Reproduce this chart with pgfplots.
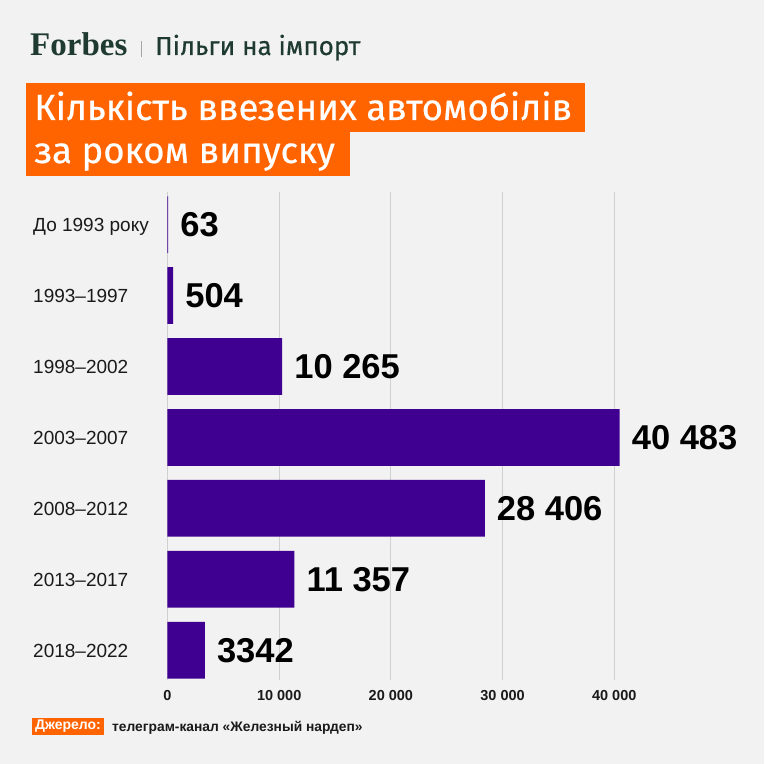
\documentclass[border=0pt]{standalone}
\usepackage{pgfplots}
\pgfplotsset{compat=1.18}
\usepackage{fontspec}
\setmainfont{Liberation Sans}
\newfontfamily\serifbold{Liberation Serif}
\newfontfamily\fira{Fira Sans}[FakeBold=0.5]
\definecolor{bg}{HTML}{F2F2F2}
\definecolor{barc}{HTML}{3F0091}
\definecolor{orng}{HTML}{FF6400}
\definecolor{fgreen}{HTML}{1F3B31}
\definecolor{gridc}{HTML}{D0D0D0}
\definecolor{txt}{HTML}{1A1A1A}
\begin{document}
\begin{tikzpicture}[x=1pt,y=1pt]
\fill[bg] (0,0) rectangle (764,764);
\useasboundingbox (0,0) rectangle (764,764);
% header
\node[anchor=base west, inner sep=0pt, text=fgreen] at (30,708) {\fontsize{33}{36}\selectfont\serifbold\bfseries Forbes};
\draw[gray!70, line width=0.8pt] (141,723) -- (141,707);
\node[anchor=base west, inner sep=0pt, text=fgreen] at (155,709) {\fontsize{26}{28}\selectfont\fira Пільги на імпорт};
% title boxes
\fill[orng] (26,681) rectangle (585,632);
\fill[orng] (26,632) rectangle (350,588);
\node[anchor=base west, inner sep=0pt, text=white] at (34,644) {\fontsize{36.5}{38}\selectfont\fira Кількість ввезених автомобілів};
\node[anchor=base west, inner sep=0pt, text=white] at (34,601) {\fontsize{36.5}{38}\selectfont\fira за роком випуску};
% source
\fill[orng] (32,29) rectangle (104,46);
\node[anchor=center, inner sep=0pt, text=white] at (68,37.5) {\fontsize{14}{16}\selectfont\bfseries Джерело:};
\node[anchor=base west, inner sep=0pt, text=txt] at (112,32) {\fontsize{13.8}{16}\selectfont\bfseries телеграм-канал «Железный нардеп»};
\begin{axis}[
  at={(167.5pt,84pt)}, anchor=south west,
  scale only axis, width=502.6pt, height=488pt,
  xbar, bar width=0.8, bar shift=0pt,
  xmin=0, xmax=45000,
  ymin=-0.46, ymax=6.42, y dir=reverse,
  axis line style={draw=none},
  major tick length=0pt,
  scaled x ticks=false,
  xmajorgrids, major grid style={draw=gridc, line width=0.8pt},
  xtick={0,10000,20000,30000,40000},
  xticklabels={0,10 000,20 000,30 000,40 000},
  xticklabel style={inner sep=0pt, yshift=-10pt, font=\fontsize{14.5}{16}\selectfont\bfseries, text=txt},
  ytick={0,1,2,3,4,5,6},
  yticklabels={До 1993 року,1993–1997,1998–2002,2003–2007,2008–2012,2013–2017,2018–2022},
  yticklabel style={anchor=base west, inner sep=0pt, xshift=-134.5pt, yshift=-7pt, font=\fontsize{19}{21}\selectfont, text=txt},
  point meta=explicit symbolic,
  nodes near coords,
  nodes near coords style={anchor=west, inner sep=0pt, xshift=12pt, font=\fontsize{34.5}{36}\selectfont\bfseries, text=black},
]
\addplot[fill=barc, draw=none] coordinates {
  (63,0) [63]
  (504,1) [504]
  (10265,2) [10 265]
  (40483,3) [40 483]
  (28406,4) [28 406]
  (11357,5) [11 357]
  (3342,6) [3342]
};
\end{axis}
\end{tikzpicture}
\end{document}
